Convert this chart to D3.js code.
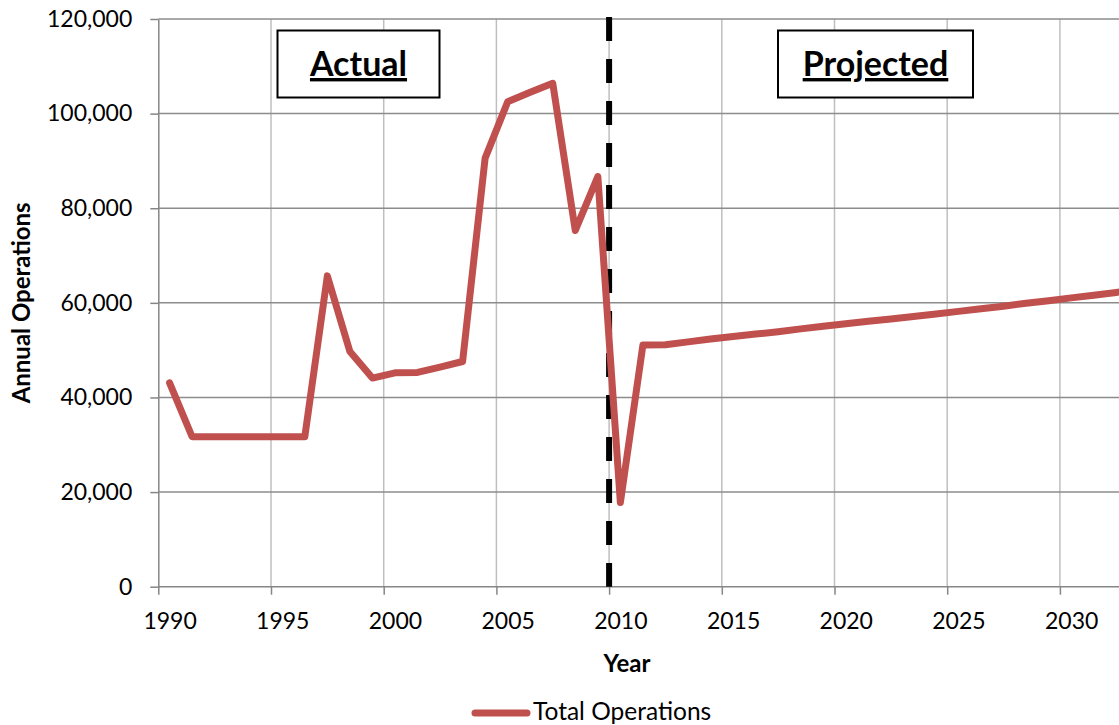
<!DOCTYPE html>
<html>
<head>
<meta charset="utf-8">
<script src="https://cdn.jsdelivr.net/npm/d3@7"></script>
<style>
  html, body { margin: 0; padding: 0; background: #fff; }
  svg { display: block; font-family: Lato, "Open Sans", sans-serif; }
</style>
</head>
<body>
<svg id="chart" width="1119" height="725"></svg>
<script>
// Annual operations, actual (1990-2009) and projected (2010 onward)
const years = d3.range(1990, 2034);
const operations = [
  43100, 31700, 31700, 31700, 31700, 31700, 31700, 65700, 49700, 44100,
  45200, 45300, 46400, 47600, 90600, 102500, 104500, 106400, 75300, 86700,
  17800, 51100, 51150, 51750, 52350, 52900, 53400, 53900, 54500, 55050,
  55600, 56100, 56600, 57100, 57650, 58200, 58750, 59300, 59900, 60450,
  61050, 61600, 62200, 62800
];
const xTicks = [1990, 1995, 2000, 2005, 2010, 2015, 2020, 2025, 2030];
const yTicks = [0, 20000, 40000, 60000, 80000, 100000, 120000];
const splitYear = 2010;
const seriesName = "Total Operations";

const svg = d3.select("#chart");
const plotLeft = 158.3, plotTop = 19, plotBottom = 586.7, yearWidth = 22.54;
const font = "Lato, 'Open Sans', sans-serif";

// each year occupies one slot; a year's point sits in the middle of its slot
const x = d3.scaleLinear()
  .domain([1990, 2033])
  .range([plotLeft, plotLeft + 43 * yearWidth]);
const y = d3.scaleLinear()
  .domain([0, 120000])
  .range([plotBottom, plotTop]);

// gridlines
svg.append("g").selectAll("line").data(xTicks.slice(1)).join("line")
  .attr("x1", d => x(d)).attr("x2", d => x(d))
  .attr("y1", plotTop).attr("y2", plotBottom)
  .attr("stroke", "#bfbfbf").attr("stroke-width", 1.5);
svg.append("g").selectAll("line").data(yTicks.slice(1)).join("line")
  .attr("x1", plotLeft).attr("x2", 1119)
  .attr("y1", d => y(d)).attr("y2", d => y(d))
  .attr("stroke", "#8c8c8c").attr("stroke-width", 1.5);

// axes
const yAxis = svg.append("g")
  .attr("transform", `translate(${plotLeft},0)`)
  .call(d3.axisLeft(y).tickValues(yTicks).tickFormat(d3.format(","))
    .tickSize(8).tickSizeOuter(0).tickPadding(18));
// tick marks on slot boundaries
const xAxis = svg.append("g")
  .attr("transform", `translate(0,${plotBottom})`)
  .call(d3.axisBottom(x).tickValues(xTicks).tickFormat("")
    .tickSize(8).tickSizeOuter(0));
// year labels centred in their slots
const xLabels = svg.append("g")
  .attr("transform", `translate(0,${plotBottom})`)
  .call(d3.axisBottom(x).tickValues(xTicks.map(d => d + 0.5))
    .tickFormat(d => String(d - 0.5)).tickSize(0).tickPadding(26));
xLabels.select(".domain").remove();
[yAxis, xAxis].forEach(g => {
  g.select(".domain").attr("stroke", "#868686").attr("stroke-width", 1.5);
  g.selectAll(".tick line").attr("stroke", "#868686").attr("stroke-width", 1.5);
});
[yAxis, xLabels].forEach(g => {
  g.selectAll(".tick text").attr("fill", "#000")
    .style("font-size", "23px").style("font-family", font);
});
xAxis.select(".domain").attr("d", `M${plotLeft},0H1119`);

// actual / projected divider
svg.append("line")
  .attr("x1", x(splitYear)).attr("x2", x(splitYear))
  .attr("y1", y(120000) - 2).attr("y2", plotBottom)
  .attr("stroke", "#000").attr("stroke-width", 6)
  .attr("stroke-dasharray", "24,18");

// series line
const line = d3.line()
  .x((d, i) => x(years[i] + 0.5))
  .y(d => y(d));
svg.append("path")
  .datum(operations)
  .attr("d", line)
  .attr("fill", "none")
  .attr("stroke", "#c0504d")
  .attr("stroke-width", 7)
  .attr("stroke-linejoin", "round")
  .attr("stroke-linecap", "round");

// labelled boxes
const boxes = [
  { label: "Actual", cx: 358.5, w: 162 },
  { label: "Projected", cx: 875.5, w: 195 }
];
boxes.forEach(b => {
  svg.append("rect")
    .attr("x", b.cx - b.w / 2).attr("y", 30.5)
    .attr("width", b.w).attr("height", 67)
    .attr("fill", "#fff").attr("stroke", "#000").attr("stroke-width", 2);
  svg.append("text")
    .attr("x", b.cx).attr("y", 76)
    .attr("text-anchor", "middle")
    .style("font-size", "34px").style("font-weight", "bold")
    .style("text-decoration", "underline")
    .text(b.label);
});

// axis titles
svg.append("text")
  .attr("x", 627).attr("y", 672)
  .attr("text-anchor", "middle")
  .style("font-size", "24px").style("font-weight", "bold")
  .text("Year");
svg.append("text")
  .attr("transform", `translate(30,${(plotTop + plotBottom) / 2}) rotate(-90)`)
  .attr("text-anchor", "middle")
  .style("font-size", "24px").style("font-weight", "bold")
  .text("Annual Operations");

// legend
svg.append("line")
  .attr("x1", 475).attr("x2", 527)
  .attr("y1", 713).attr("y2", 713)
  .attr("stroke", "#c0504d").attr("stroke-width", 7)
  .attr("stroke-linecap", "round");
svg.append("text")
  .attr("x", 533).attr("y", 720)
  .style("font-size", "24.5px")
  .text(seriesName);
</script>
</body>
</html>
